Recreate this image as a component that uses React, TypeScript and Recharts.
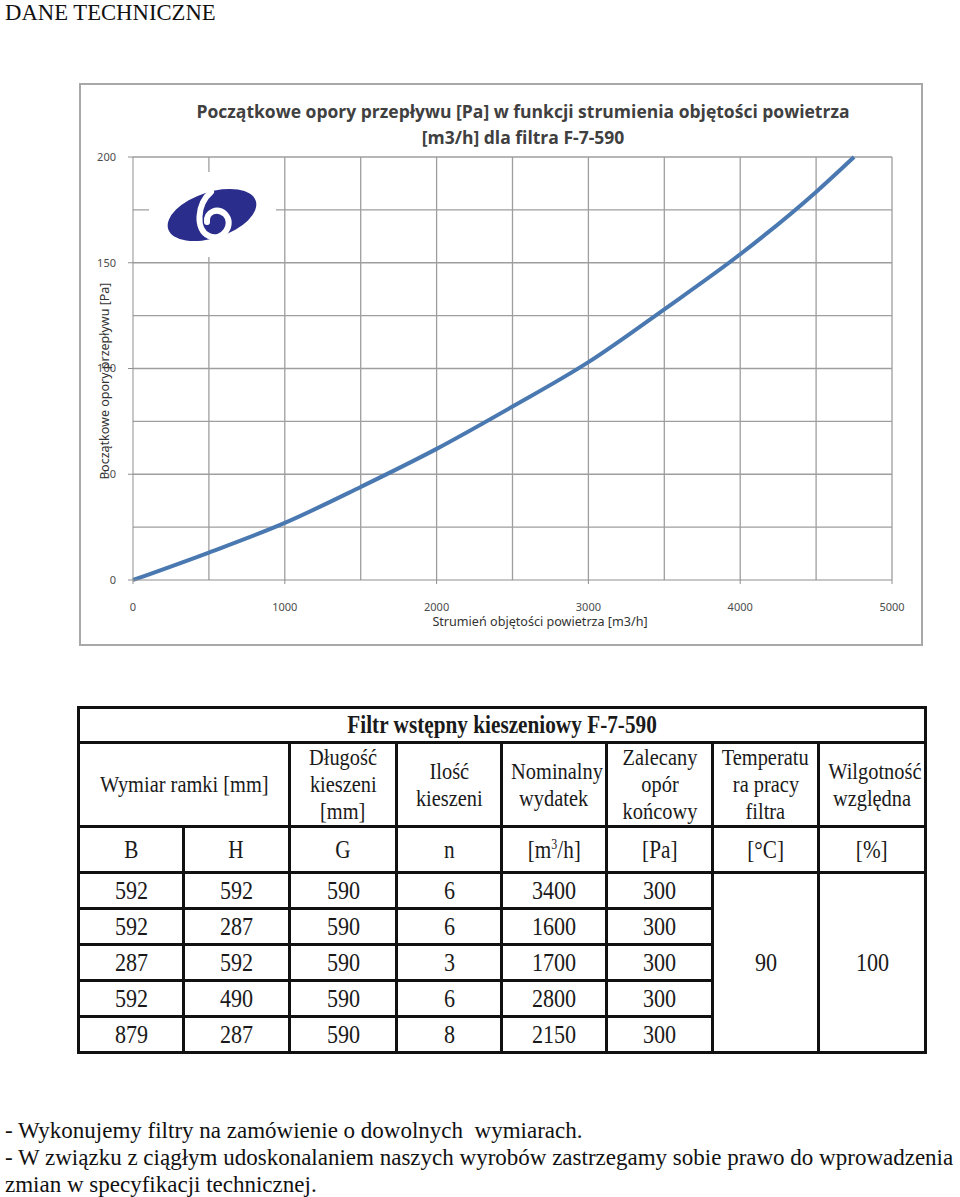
import React from "react";
import { LineChart, Line, XAxis, YAxis, ReferenceLine } from "recharts";

// strumień [m3/h] -> opór [Pa]
const flow = [0, 500, 1000, 1500, 2000, 2500, 3000, 3500, 4000, 4500, 4750];
const pressure = [0, 13, 27, 44, 62, 82, 103, 128, 154, 183.5, 200];

const xTicks = [0, 1000, 2000, 3000, 4000, 5000];
const yTicks = [0, 50, 100, 150, 200];
const xGrid = [500, 1000, 1500, 2000, 2500, 3000, 3500, 4000, 4500, 5000];
const yGrid = [25, 50, 75, 100, 125, 150, 175, 200];

const tableTitle = "Filtr wstępny kieszeniowy F-7-590";
const headers = [
  ["Długość", "kieszeni", "[mm]"],
  ["Ilość", "kieszeni"],
  ["Nominalny", "wydatek"],
  ["Zalecany", "opór", "końcowy"],
  ["Temperatu", "ra pracy", "filtra"],
  ["Wilgotność", "względna"],
];
const frameB = [592, 592, 287, 592, 879];
const frameH = [592, 287, 592, 490, 287];
const depthG = [590, 590, 590, 590, 590];
const pockets = [6, 6, 3, 6, 8];
const nominalFlow = [3400, 1600, 1700, 2800, 2150];
const finalDrop = [300, 300, 300, 300, 300];
const temperature = 90;
const humidity = 100;

const notes = [
  "- Wykonujemy filtry na zamówienie o dowolnych  wymiarach.",
  "- W związku z ciągłym udoskonalaniem naszych wyrobów zastrzegamy sobie prawo do wprowadzenia",
  "zmian w specyfikacji technicznej.",
];

const data = flow.map((f, i) => ({ flow: f, pa: pressure[i] }));

const serif = "'Liberation Serif', 'Times New Roman', serif";
const sans = "'Noto Sans', 'Open Sans', sans-serif";
const gridColor = "#9e9e9e";

function Squeeze({ children, k = 0.85 }: { children: React.ReactNode; k?: number }) {
  return (
    <span style={{ display: "inline-block", transform: `scaleX(${k})`, whiteSpace: "nowrap" }}>
      {children}
    </span>
  );
}

function Chart() {
  return (
    <>
      <div
        style={{
          position: "absolute",
          left: 79,
          top: 83,
          width: 844,
          height: 563,
          border: "2px solid #a8a8a8",
          boxSizing: "border-box",
        }}
      />
      <div style={{ position: "absolute", left: 80, top: 85 }}>
        <LineChart
          width={840}
          height={558}
          data={data}
          margin={{ top: 72, right: 28, bottom: 33, left: 0 }}
        >
          <XAxis
            dataKey="flow"
            type="number"
            domain={[0, 5000]}
            ticks={xTicks}
            height={30}
            tickSize={4}
            tickMargin={19}
            stroke="#8f8f8f"
            tick={{ fill: "#4d4d4d", fontSize: 11, fontFamily: sans }}
          />
          <YAxis
            type="number"
            domain={[0, 200]}
            ticks={yTicks}
            width={53}
            tickSize={5}
            tickMargin={12}
            stroke="#8f8f8f"
            tick={{ fill: "#4d4d4d", fontSize: 11, fontFamily: sans }}
          />
          {xGrid.map((v) => (
            <ReferenceLine key={"x" + v} x={v} stroke={gridColor} strokeWidth={1.3} />
          ))}
          {yGrid.map((v) => (
            <ReferenceLine key={"y" + v} y={v} stroke={gridColor} strokeWidth={1.3} />
          ))}
          <Line
            type="monotone"
            dataKey="pa"
            stroke="#4a78b0"
            strokeWidth={4}
            dot={false}
            isAnimationActive={false}
          />
        </LineChart>
      </div>

      {/* tytuł */}
      <div
        style={{
          position: "absolute",
          left: 80,
          width: 886,
          top: 98,
          textAlign: "center",
          fontFamily: "'Open Sans', sans-serif",
          fontWeight: 700,
          fontSize: 17.5,
          lineHeight: "26px",
          color: "#404040",
        }}
      >
        <Squeeze k={1.0}>Początkowe opory przepływu [Pa] w funkcji strumienia objętości powietrza</Squeeze>
        <br />
        <Squeeze k={1.0}>[m3/h] dla filtra F-7-590</Squeeze>
      </div>

      {/* logo */}
      <svg style={{ position: "absolute", left: 149, top: 172 }} width={127} height={85}>
        <rect x={0} y={0} width={127} height={85} fill="#fff" />
        <ellipse cx={63} cy={43} rx={46} ry={23} fill="#2a2d8c" transform="rotate(-18 63 43)" />
        <path
          d="M62 20 C48 32 46 58 60 64 C74 70 86 52 76 42 C68 35 57 40 58 50"
          fill="none"
          stroke="#fff"
          strokeWidth={6}
          strokeLinecap="round"
        />
      </svg>

      {/* opisy osi */}
      <div
        style={{
          position: "absolute",
          left: 104,
          top: 381,
          transform: "translate(-50%, -50%) rotate(-90deg)",
          whiteSpace: "nowrap",
          fontFamily: sans,
          fontSize: 12.5,
          color: "#333",
        }}
      >
        Początkowe opory przepływu [Pa]
      </div>
      <div
        style={{
          position: "absolute",
          left: 540,
          top: 621,
          transform: "translate(-50%, -50%)",
          whiteSpace: "nowrap",
          fontFamily: sans,
          fontSize: 12.6,
          color: "#333",
        }}
      >
        Strumień objętości powietrza [m3/h]
      </div>
    </>
  );
}

const cell: React.CSSProperties = {
  border: "3px solid #111",
  textAlign: "center",
  verticalAlign: "middle",
  padding: 0,
  overflow: "hidden",
};

function SpecTable() {
  const rows = frameB.map((b, i) => [b, frameH[i], depthG[i], pockets[i], nominalFlow[i], finalDrop[i]]);
  return (
    <table
      style={{
        position: "absolute",
        left: 77,
        top: 706,
        width: 847,
        height: 348,
        borderCollapse: "collapse",
        tableLayout: "fixed",
        fontFamily: serif,
        color: "#1a1a1a",
      }}
    >
      <colgroup>
        {[105, 106, 107, 105, 105, 106, 106, 107].map((w, i) => (
          <col key={i} style={{ width: w }} />
        ))}
      </colgroup>
      <tbody>
        <tr style={{ height: 35 }}>
          <td colSpan={8} style={{ ...cell, fontWeight: 700, fontSize: 25 }}>
            <Squeeze>{tableTitle}</Squeeze>
          </td>
        </tr>
        <tr style={{ height: 84 }}>
          <td colSpan={2} style={{ ...cell, fontSize: 24 }}>
            <Squeeze>Wymiar ramki [mm]</Squeeze>
          </td>
          {headers.map((h, i) => (
            <td key={i} style={{ ...cell, fontSize: 24, lineHeight: "27px" }}>
              {h.map((line, j) => (
                <div key={j}>
                  <Squeeze>{line}</Squeeze>
                </div>
              ))}
            </td>
          ))}
        </tr>
        <tr style={{ height: 46 }}>
          {["B", "H", "G", "n"].map((u) => (
            <td key={u} style={{ ...cell, fontSize: 25 }}>
              <Squeeze>{u}</Squeeze>
            </td>
          ))}
          <td style={{ ...cell, fontSize: 25 }}>
            <Squeeze>
              [m<sup style={{ fontSize: 14 }}>3</sup>/h]
            </Squeeze>
          </td>
          {["[Pa]", "[°C]", "[%]"].map((u) => (
            <td key={u} style={{ ...cell, fontSize: 25 }}>
              <Squeeze>{u}</Squeeze>
            </td>
          ))}
        </tr>
        {rows.map((r, i) => (
          <tr key={i} style={{ height: 36 }}>
            {r.map((v, j) => (
              <td key={j} style={{ ...cell, fontSize: 26 }}>
                <Squeeze>{v}</Squeeze>
              </td>
            ))}
            {i === 0 && (
              <>
                <td rowSpan={5} style={{ ...cell, fontSize: 26 }}>
                  <Squeeze>{temperature}</Squeeze>
                </td>
                <td rowSpan={5} style={{ ...cell, fontSize: 26 }}>
                  <Squeeze>{humidity}</Squeeze>
                </td>
              </>
            )}
          </tr>
        ))}
      </tbody>
    </table>
  );
}

export default function App() {
  return (
    <div
      style={{
        position: "absolute",
        left: 0,
        top: 0,
        width: 960,
        height: 1197,
        background: "#fff",
        overflow: "hidden",
        fontFamily: serif,
      }}
    >
      <div style={{ position: "absolute", left: 5, top: 0, fontSize: 22.7, lineHeight: "25px", color: "#111" }}>
        DANE TECHNICZNE
      </div>
      <Chart />
      <SpecTable />
      <div style={{ position: "absolute", left: 5, top: 1117, fontSize: 23, lineHeight: "27px", color: "#111" }}>
        {notes.map((n, i) => (
          <div key={i} style={{ whiteSpace: "pre" }}>
            {n}
          </div>
        ))}
      </div>
    </div>
  );
}
